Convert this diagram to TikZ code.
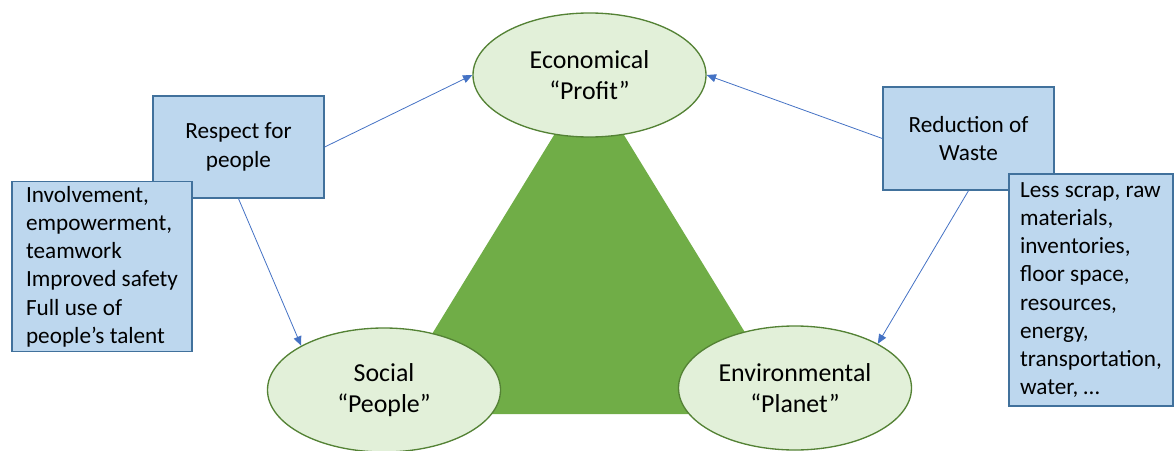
\documentclass[tikz,border=0pt]{standalone}
\usepackage{fontspec}
\setmainfont{Carlito}
\usetikzlibrary{shapes.geometric,arrows.meta}
\definecolor{boxfill}{HTML}{BDD7EE}
\definecolor{boxline}{HTML}{41719C}
\definecolor{ellfill}{HTML}{E2F0D9}
\definecolor{ellline}{HTML}{548235}
\definecolor{trifill}{HTML}{70AD47}
\definecolor{linkblue}{HTML}{4472C4}
\begin{document}
\begin{tikzpicture}[x=0.75pt, y=-0.75pt,
    pillar/.style={ellipse, draw=ellline, fill=ellfill, line width=1pt, inner sep=0pt,
                   minimum width=174.75pt, minimum height=93pt, align=center,
                   font=\fontsize{19.4}{23.8}\selectfont},
    note/.style={rectangle, draw=boxline, fill=boxfill, line width=1pt,
                 font=\fontsize{17.4}{21.2}\selectfont},
    link/.style={draw=linkblue, line width=0.6pt, -{Triangle[length=7pt,width=6pt]}}]
      \useasboundingbox (0, 0) rectangle (1175, 450);
      \fill [trifill] (589, 78) -- (383, 414) -- (795, 414) -- cycle;
      \node (econ) [pillar] at (589.5, 75) {Economical\\“Profit”};
      \node (social) [pillar] at (384, 390) {Social\\“People”};
      \node (env) [pillar] at (795, 388) {Environmental\\“Planet”};
      \node (respect) [note, align=center, minimum width=128.25pt, minimum height=76.5pt]
            at (238.5, 147) {Respect for\\people};
      \node (involve) [note, align=left, inner xsep=10pt, minimum width=135pt, minimum height=126.75pt]
            at (102, 266.5) {Involvement,\\empowerment,\\teamwork\\Improved safety\\Full use of\\people’s talent};
      \node (waste) [note, align=center, minimum width=128.25pt, minimum height=77.25pt]
            at (968.5, 138.5) {Reduction of\\Waste};
      \node (less) [note, align=left, inner xsep=8pt, minimum width=123pt, minimum height=174pt]
            at (1091, 290) {Less scrap, raw\\materials,\\inventories,\\floor space,\\resources,\\energy,\\transportation,\\water, …};
      \draw [link] (respect.east) -- (econ.west);
      \draw [link] (respect.south) -- (social.north west);
      \draw [link] (waste.west) -- (econ.east);
      \draw [link] (waste.south) -- (env.north east);
\end{tikzpicture}
\end{document}
